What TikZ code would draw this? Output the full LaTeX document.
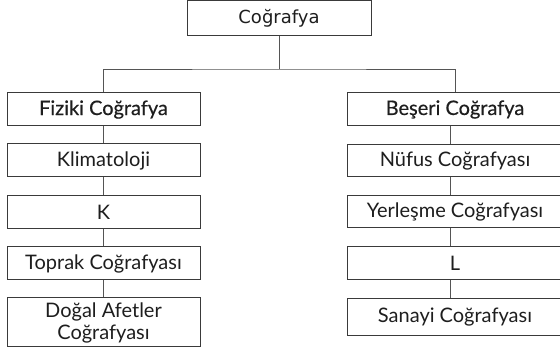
\documentclass[tikz,border=0pt]{standalone}
\usepackage{fontspec}
\setmainfont{Lato}
\newfontfamily\topfont{DejaVu Sans}
\newfontfamily\medfont[FakeBold=0.4]{Lato}
\definecolor{edge}{HTML}{3A3A3A}
\definecolor{wire}{HTML}{555555}
\definecolor{ink}{HTML}{1E1E1E}
\begin{document}
\begin{tikzpicture}[x=1pt,y=-1pt,
  box/.style={draw=edge, line width=1pt, text=ink, inner sep=0pt, align=center, minimum height=33pt},
  lbox/.style={box, minimum width=193pt, font=\fontsize{20}{23}\selectfont},
  rbox/.style={box, minimum width=216pt, font=\fontsize{20}{23}\selectfont},
  wire/.style={draw=wire, line width=0.9pt}]
\useasboundingbox (0,0) rectangle (560,352);
\fill[white] (0,0) rectangle (560,352);
\node[box, minimum width=184pt, minimum height=35pt, font=\topfont\fontsize{18}{20}\selectfont] (top) at (279,18.5) {Coğrafya};
% left column
\node[lbox, font=\medfont\fontsize{20}{23}\selectfont] (l1) at (103.5,109.5) {Fiziki Coğrafya};
\node[lbox] (l2) at (103.5,160.5) {Klimatoloji};
\node[lbox] (l3) at (103.5,212.5) {K};
\node[lbox] (l4) at (103.5,263.5) {Toprak Coğrafyası};
\node[lbox, minimum height=49pt] (l5) at (103.5,322.5) {Doğal Afetler\\[-1pt]Coğrafyası};
% right column
\node[rbox, font=\medfont\fontsize{20}{23}\selectfont] (r1) at (455,109.5) {Beşeri Coğrafya};
\node[rbox, minimum height=32pt] (r2) at (455,161) {Nüfus Coğrafyası};
\node[rbox, minimum height=32pt] (r3) at (455,212) {Yerleşme Coğrafyası};
\node[rbox] (r4) at (455,263.5) {L};
\node[rbox, minimum height=37pt] (r5) at (455,317.5) {Sanayi Coğrafyası};
% connectors
\coordinate (hub) at (279,69);
\draw[wire] (top.south) -- (hub);
\draw[wire] (l1.north) |- (hub) -| (r1.north);
\foreach \a/\b in {l1/l2,l2/l3,l3/l4,l4/l5}
  \draw[wire] (\a.south) -- (\b.north);
\foreach \a/\b in {r1/r2,r2/r3,r3/r4,r4/r5}
  \draw[wire] ([xshift=-5pt]\a.south) -- ([xshift=-5pt]\b.north);
\end{tikzpicture}
\end{document}
